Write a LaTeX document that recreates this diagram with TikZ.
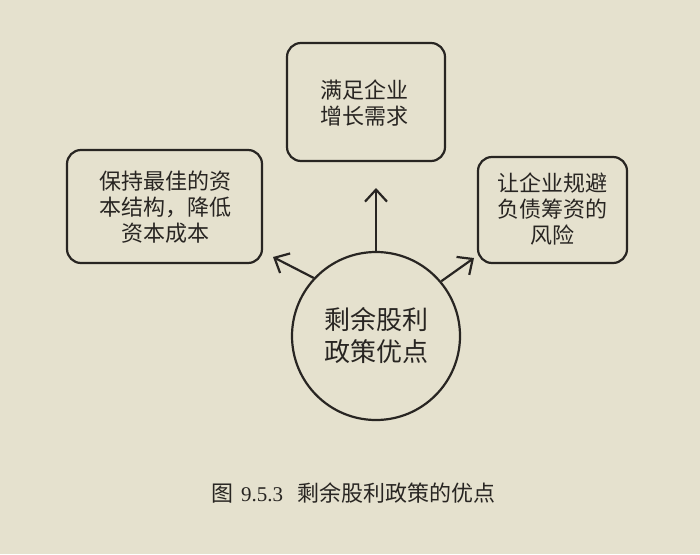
\documentclass[tikz,border=0pt]{standalone}
\usepackage{fontspec}
\setmainfont{Liberation Serif}
\newfontfamily\cjk{Noto Sans CJK SC}
\usetikzlibrary{arrows.meta}
\definecolor{paper}{RGB}{229,225,206}
\definecolor{ink}{RGB}{40,37,34}
\tikzset{
  box/.style={draw=ink, line width=2.2pt, rounded corners=14pt, fill=none},
  boxtext/.style={text=ink, font=\cjk\fontsize{22}{26}\selectfont, align=center},
  hub/.style={draw=ink, line width=2.2pt, circle, minimum size=168pt, inner sep=0pt, text=ink, font=\cjk\fontsize{26}{32}\selectfont, align=center},
  arr/.style={draw=ink, line width=2.2pt, -{Straight Barb[length=12pt,width=22pt,line width=2.2pt]}},
}
\begin{document}
\begin{tikzpicture}[x=1pt,y=-1pt]
\fill[paper] (0,0) rectangle (700,554);
\useasboundingbox (0,0) rectangle (700,554);
% boxes
\draw[box] (287,43) rectangle (445,161);
\node[boxtext] (top) at (364,103) {满足企业\\增长需求};
\draw[box] (67,150) rectangle (262,263);
\node[boxtext] (left) at (165,207) {保持最佳的资\\本结构，降低\\资本成本};
\draw[box] (478,157) rectangle (627,263);
\node[boxtext] (right) at (552,209) {让企业规避\\负债筹资的\\风险};
% hub
\node[hub] (hub) at (376,336) {剩余股利\\政策优点};
% arrows
\coordinate (ta) at (hub.north |- 0,188);
\coordinate (la) at (273,257);
\coordinate (ra) at (474,258);
\draw[arr] (hub.north) -- (ta);
\draw[arr] (hub.137) -- (la);
\draw[arr] (hub.40) -- (ra);
% caption
\node[text=ink, anchor=center] (cap) at (353,493) {\cjk\fontsize{22}{24}\selectfont 图\hspace{8pt}{\rmfamily\fontsize{21}{24}\selectfont 9.5.3}\hspace{14pt}剩余股利政策的优点};
\end{tikzpicture}
\end{document}
